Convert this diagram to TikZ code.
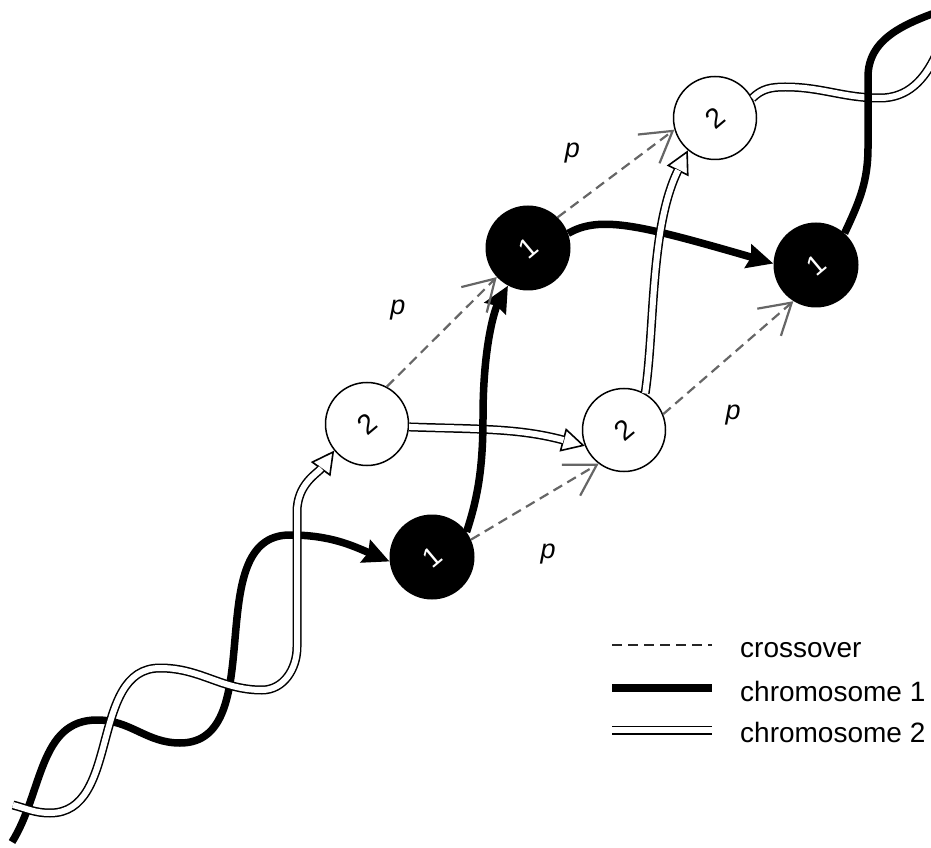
\documentclass[tikz,border=0pt]{standalone}
\usepackage{fontspec}
\setmainfont{Liberation Sans}
\usepackage{graphicx}
\usepackage{tikz}
\usetikzlibrary{arrows.meta}

\newcommand{\tilted}[1]{\rotatebox{40}{#1}}

\begin{document}
\begin{tikzpicture}[x=1pt,y=1pt,
    chrone/.style={line width=7.5pt,-{Stealth[length=26pt,width=24pt,inset=3pt]}},
    chrtwo/.style={draw=black,line width=1.5pt,double=white,double distance=6pt,-},
    % open head first, the double strand laid over it
    chrtwoarrow/.style={draw=white,line width=0.2pt,
      -{Triangle[open,length=23pt,width=24pt,fill=white,color=black,line width=1.6pt]},
      postaction={chrtwo,shorten >=22pt}},
    xover/.style={draw=black!60,line width=2.2pt,dash pattern=on 10pt off 6pt,-{Straight Barb[length=30pt,width=36pt]}},
    onenode/.style={circle,fill=black,text=white,minimum size=85pt,inner sep=0pt,font=\fontsize{28}{28}\selectfont},
    twonode/.style={circle,draw,fill=white,line width=1.5pt,minimum size=83pt,inner sep=0pt,font=\fontsize{28}{28}\selectfont},
    plabel/.style={font=\itshape\fontsize{27}{27}\selectfont},
    legend/.style={anchor=base west,inner sep=0pt,font=\fontsize{28}{28}\selectfont}]
  \useasboundingbox (0,0) rectangle (931,847);

  % generations of the two chromosomes
  \node[onenode] (c1a) at (432,290) {\tilted{1}};
  \node[twonode] (c2a) at (367,423) {\tilted{2}};
  \node[onenode] (c1b) at (528,599) {\tilted{1}};
  \node[twonode] (c2b) at (624,417) {\tilted{2}};
  \node[twonode] (c2c) at (715,729) {\tilted{2}};
  \node[onenode] (c1c) at (816,582) {\tilted{1}};

  % loose ends running off the page
  \coordinate (s1) at (12,5);
  \coordinate (s2) at (13,42);
  \coordinate (e1) at (940,836);
  \coordinate (e2) at (936,792);

  % the twisted strands
  \draw[chrone] (s1) to[out=58,in=180] (97,127) to[out=0,in=180] (180,104)
    to[out=0,in=180] (290,312) to[out=0,in=157] (c1a.186);
  \draw[chrtwoarrow] (s2) to[out=-15,in=180] (50,34) to[out=0,in=180] (160,179)
    to[out=0,in=180] (262,157) to[out=0,in=-90] (297,200) -- (297,335)
    to[out=90,in=234] (c2a.219);
  \draw[chrtwoarrow] (c2a.-4) to[out=-2,in=165] (c2b.202);
  \draw[chrone] (c1a.36) .. controls (478,350) and (483,380) .. (483,430)
    .. controls (483,505) and (496,540) .. (c1b.242);
  \draw[chrone] (c1b.20) .. controls (600,632) and (640,622) .. (c1c.178);
  \draw[chrtwoarrow] (c2b.60) .. controls (655,520) and (650,620) .. (c2c.230);
  \draw[chrtwo] (c2c.28) to[out=45,in=180] (785,760) to[out=0,in=180] (880,749)
    to[out=0,in=245] (e2);
  \draw[chrone,-] (c1c.48) to[out=65,in=-90] (868,700) -- (868,770)
    to[out=90,in=200] (e1);

  % crossovers
  \draw[xover] (c2a.62) -- node[plabel,pos=.4,xshift=-33pt,yshift=33pt]{p} (c1b.223);
  \draw[xover] (c1a.24) -- node[plabel,pos=.4,xshift=26pt,yshift=-45pt]{p} (c2b.233);
  \draw[xover] (c1b.46) -- node[plabel,pos=.34,xshift=-25pt,yshift=34pt]{p} (c2c.196);
  \draw[xover] (c2b.22) -- node[plabel,pos=.3,xshift=31pt,yshift=-35pt]{p} (c1c.238);

  % legend
  \draw[xover,draw=black!85,-] (612,202) -- (712,202);
  \draw[chrone,-] (612,159) -- (712,159);
  \draw[chrtwo] (612,117) -- (712,117);
  \node[legend] (lgx) at (740,190) {crossover};
  \node[legend] (lg1) at (740,146) {chromosome 1};
  \node[legend] (lg2) at (740,105) {chromosome 2};
\end{tikzpicture}
\end{document}
